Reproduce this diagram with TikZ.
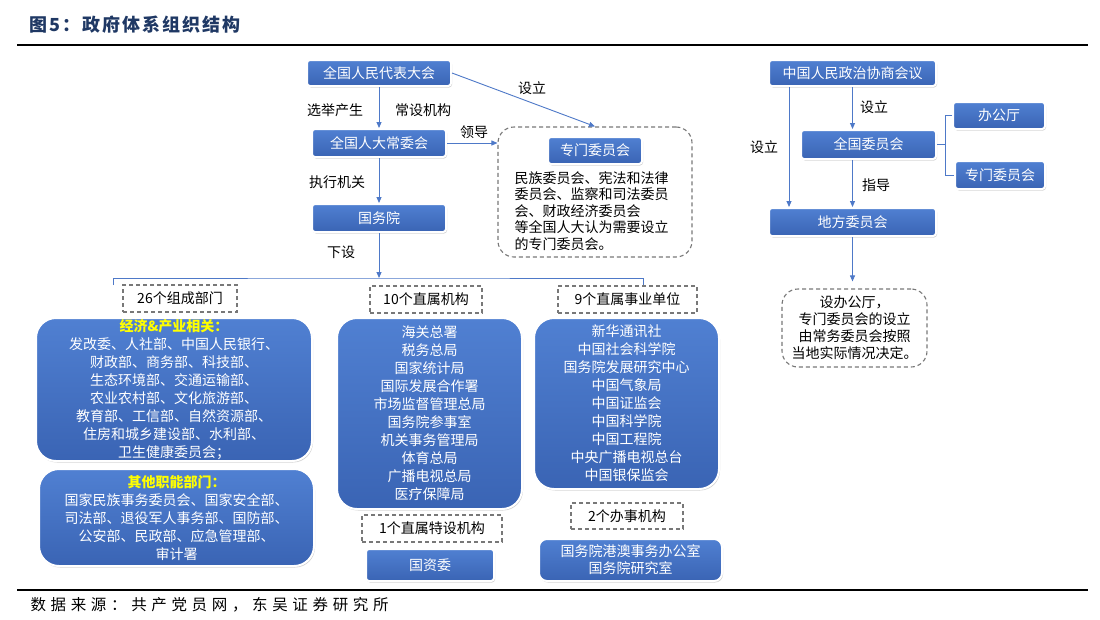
\documentclass[tikz,border=0pt]{standalone}
\usepackage{fontspec}
\setmainfont{Noto Sans CJK SC}
\newfontfamily\titlefont[LetterSpace=11]{Noto Sans CJK SC}
\newfontfamily\srcfont[LetterSpace=30]{Noto Sans CJK SC}
\usepackage{tikz}
\usetikzlibrary{arrows.meta,shadows,positioning}
\definecolor{boxtop}{RGB}{80,128,210}
\definecolor{boxbot}{RGB}{58,100,180}
\definecolor{linkblue}{RGB}{78,121,200}
\definecolor{dashgray}{RGB}{120,120,120}
\definecolor{titleblue}{RGB}{31,56,100}
\definecolor{hl}{RGB}{255,255,0}

\begin{document}
\begin{tikzpicture}[x=1pt,y=-1pt,
  every node/.style={font=\fontsize{14}{18}\selectfont},
  box/.style={draw=white,line width=2pt,top color=boxtop,bottom color=boxbot,rounded corners=3pt,
    text=white,inner sep=0pt,align=center,
    drop shadow={shadow xshift=1pt,shadow yshift=-1.5pt,opacity=0.35}},
  bigbox/.style={box,rounded corners=20pt},
  tag/.style={draw=dashgray,dash pattern=on 4pt off 3pt,line width=1.1pt,inner sep=0pt},
  note/.style={tag,rounded corners=16pt},
  link/.style={draw=linkblue,line width=0.9pt,-{Triangle[length=6pt,width=5pt]}},
  branch/.style={draw=linkblue,line width=0.9pt}]
  \useasboundingbox (0,0) rectangle (1100,619);
  \fill[white] (0,0) rectangle (1100,619);

  \node[anchor=west,text=titleblue,font=\fontsize{18}{20}\titlefont\bfseries] (title) at (26,25) {图5：政府体系组织结构};
  \draw[line width=2pt] (17,45) -- (1088,45);
  \draw[line width=1.5pt] (17,590) -- (1088,590);
  \node[anchor=west,font=\fontsize{15.5}{17}\srcfont] (source) at (27,605) {数据来源：共产党员网，东吴证券研究所};

  % NPC side
  \node[box,minimum width=144,minimum height=26] (npc) at (379,73) {全国人民代表大会};
  \node[box,minimum width=134,minimum height=28] (npcsc) at (379,143) {全国人大常委会};
  \node[box,minimum width=134,minimum height=28] (council) at (379,218) {国务院};
  \node[note,minimum width=194,minimum height=130] (specbox) at (595,192) {};
  \node[box,minimum width=94,minimum height=27] (spec) at (595,150.5) {专门委员会};
  \node[anchor=west,align=left,font=\fontsize{14}{16.5}\selectfont] (spectext) at (511,211)
    {民族委员会、宪法和法律\\委员会、监察和司法委员\\会、财政经济委员会\\等全国人大认为需要设立\\的专门委员会。};

  \draw[link] (npc) -- (npcsc);
  \draw[link] (npcsc) -- (council);
  \draw[link] (npcsc) -- (npcsc -| specbox.west);
  \draw[link] (npc.east) -- (specbox.north);
  \node (elect) at (335,110) {选举产生};
  \node (standing) at (423,110) {常设机构};
  \node (lead) at (474,132) {领导};
  \node (setup) at (532,88) {设立};
  \node (exec) at (337,182) {执行机关};
  \node (below) at (341,252) {下设};

  \coordinate (fork) at (379,278);
  \coordinate (forkl) at (113,285);
  \coordinate (forkr) at (643,285);
  \draw[link] (council) -- (fork);
  \draw[branch] (forkl) |- (fork) -| (forkr);

  % CPPCC side
  \node[box,minimum width=167,minimum height=26] (cppcc) at (852.5,73) {中国人民政治协商会议};
  \node[box,minimum width=135,minimum height=29] (natcom) at (868.5,144.5) {全国委员会};
  \node[box,minimum width=167,minimum height=28] (local) at (852.5,222) {地方委员会};
  \node[box,minimum width=92,minimum height=27] (office) at (999,115.5) {办公厅};
  \node[box,minimum width=90,minimum height=28] (cppspec) at (1000,175) {专门委员会};
  \node[note,minimum width=145,minimum height=78,align=center,font=\fontsize{14}{17}\selectfont] (localnote) at (854.5,328)
    {设办公厅，\\专门委员会的设立\\由常务委员会按照\\当地实际情况决定。};

  \draw[link] (cppcc) -- (cppcc |- natcom.north);
  \draw[link] ([xshift=21pt]cppcc.south west) -- ([xshift=21pt]local.north west);
  \draw[link] (natcom.south -| local) -- (local);
  \draw[link] (local) -- ([yshift=7pt]localnote.north -| local);
  \coordinate (nb) at (945,144.5);
  \draw[branch] (natcom.east) -- (nb);
  \draw[branch] (office.west) -| (nb) |- (cppspec.west);
  \node (setup2) at (874,107) {设立};
  \node (setup3) at (764,147) {设立};
  \node (guide) at (876,185) {指导};

  % State Council units
  \node[tag,minimum width=114,minimum height=27] (t26) at (180,298.5) {26个组成部门};
  \node[bigbox,minimum width=276,minimum height=143] (econ) at (174,389.5)
    {{\color{hl}\bfseries 经济\&产业相关：}\\发改委、人社部、中国人民银行、\\财政部、商务部、科技部、\\生态环境部、交通运输部、\\农业农村部、文化旅游部、\\教育部、工信部、自然资源部、\\住房和城乡建设部、水利部、\\卫生健康委员会；};
  \node[bigbox,minimum width=275,minimum height=97] (other) at (176.5,517.5)
    {{\color{hl}\bfseries 其他职能部门：}\\国家民族事务委员会、国家安全部、\\司法部、退役军人事务部、国防部、\\公安部、民政部、应急管理部、\\审计署};

  \node[tag,minimum width=112,minimum height=27] (t10) at (426,299.5) {10个直属机构};
  \node[bigbox,minimum width=185,minimum height=191] (direct) at (429.5,413.5)
    {海关总署\\税务总局\\国家统计局\\国际发展合作署\\市场监督管理总局\\国务院参事室\\机关事务管理局\\体育总局\\广播电视总局\\医疗保障局};
  \node[tag,minimum width=140,minimum height=27] (t1) at (432,528.5) {1个直属特设机构};
  \node[box,minimum width=128,minimum height=32] (sasac) at (430,565) {国资委};

  \node[tag,minimum width=139,minimum height=27] (t9) at (627.5,299.5) {9个直属事业单位};
  \node[bigbox,minimum width=185,minimum height=171] (inst) at (626.5,403.5)
    {新华通讯社\\中国社会科学院\\国务院发展研究中心\\中国气象局\\中国证监会\\中国科学院\\中国工程院\\中央广播电视总台\\中国银保监会};
  \node[tag,minimum width=112,minimum height=26] (t2) at (627,516) {2个办事机构};
  \node[box,minimum width=183,minimum height=42,rounded corners=8pt,font=\fontsize{14}{17}\selectfont] (offices) at (630.5,560)
    {国务院港澳事务办公室\\国务院研究室};
\end{tikzpicture}
\end{document}
